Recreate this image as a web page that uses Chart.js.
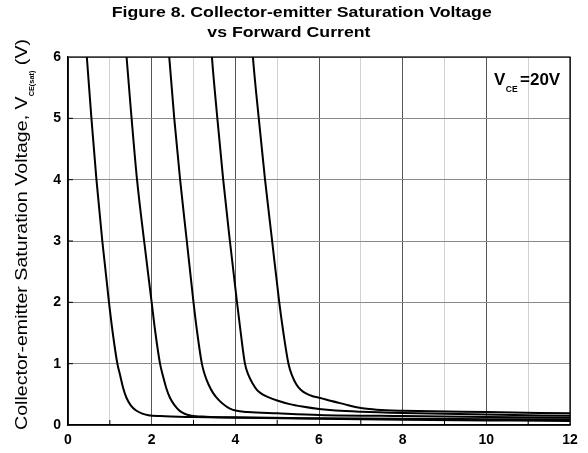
<!DOCTYPE html>
<html>
<head>
<meta charset="utf-8">
<script src="https://cdn.jsdelivr.net/npm/chart.js@4.4.1/dist/chart.umd.min.js"></script>
<style>
html,body{margin:0;padding:0;background:#ffffff;}
#wrap{width:588px;height:453px;}
</style>
</head>
<body>
<div id="wrap"><canvas id="c" width="588" height="453"></canvas></div>
<script>
// ---- chart text ----
const titleLines = ['Figure 8. Collector-emitter Saturation Voltage', 'vs Forward Current'];
const yLabelMain = 'Collector-emitter Saturation Voltage, V';
const yLabelSub = 'CE(sat)';
const yLabelTail = ' (V)';
const noteMain = 'V';
const noteSub = 'CE';
const noteTail = '=20V';

// ---- tick labels ----
const xTickLabels = [0, 2, 4, 6, 8, 10, 12];
const yTickLabels = [0, 1, 2, 3, 4, 5, 6];

// ---- series (forward current, V_CE(sat)) ----
const curve1X = [0.43, 0.45, 0.56, 0.68, 0.82, 0.98, 1.07, 1.18, 1.25, 1.32, 1.40, 1.50, 1.62, 1.76, 1.92, 2.2, 3, 4, 6, 8, 10, 12];
const curve1Y = [6.2, 6, 5, 4, 3, 2, 1.5, 1, 0.8, 0.6, 0.44, 0.32, 0.24, 0.19, 0.16, 0.145, 0.13, 0.12, 0.10, 0.085, 0.075, 0.065];

const curve2X = [1.38, 1.40, 1.52, 1.65, 1.82, 2.0, 2.09, 2.2, 2.27, 2.35, 2.44, 2.55, 2.67, 2.80, 2.95, 3.3, 4, 6, 8, 10, 12];
const curve2Y = [6.2, 6, 5, 4, 3, 2, 1.5, 1, 0.8, 0.6, 0.44, 0.32, 0.23, 0.18, 0.15, 0.135, 0.125, 0.11, 0.10, 0.095, 0.09];

const curve3X = [2.40, 2.42, 2.54, 2.68, 2.84, 3.0, 3.09, 3.2, 3.27, 3.36, 3.47, 3.60, 3.73, 3.86, 4.0, 4.3, 5, 6, 8, 10, 12];
const curve3Y = [6.2, 6, 5, 4, 3, 2, 1.5, 1, 0.82, 0.66, 0.52, 0.41, 0.33, 0.27, 0.235, 0.21, 0.19, 0.165, 0.145, 0.13, 0.12];

const curve4X = [3.42, 3.44, 3.57, 3.71, 3.87, 4.04, 4.13, 4.23, 4.31, 4.41, 4.52, 4.65, 4.80, 5.0, 5.3, 5.6, 6.0, 6.4, 7.0, 8, 10, 12];
const curve4Y = [6.2, 6, 5, 4, 3, 2, 1.5, 1, 0.82, 0.68, 0.57, 0.50, 0.45, 0.40, 0.34, 0.30, 0.26, 0.235, 0.215, 0.195, 0.17, 0.15];

const curve5X = [4.40, 4.42, 4.56, 4.71, 4.88, 5.05, 5.15, 5.27, 5.36, 5.46, 5.57, 5.70, 5.85, 6.03, 6.3, 6.6, 6.9, 7.2, 7.6, 8, 10, 12];
const curve5Y = [6.2, 6, 5, 4, 3, 2, 1.5, 1, 0.8, 0.66, 0.57, 0.51, 0.47, 0.44, 0.39, 0.34, 0.29, 0.26, 0.24, 0.232, 0.21, 0.19];

const curvesX = [curve1X, curve2X, curve3X, curve4X, curve5X];
const curvesY = [curve1Y, curve2Y, curve3Y, curve4Y, curve5Y];

const FONT = '"Liberation Sans", Arial, Helvetica, sans-serif';

const datasets = curvesX.map((xs, i) => ({
  label: 'curve ' + (i + 1),
  data: xs.map((x, j) => ({x: x, y: curvesY[i][j]})),
  showLine: true,
  borderColor: '#000000',
  borderWidth: 2,
  pointRadius: 0,
  pointHoverRadius: 0,
  fill: false,
  cubicInterpolationMode: 'monotone'
}));

const decorPlugin = {
  id: 'decor',
  afterDraw(chart) {
    const ctx = chart.ctx;
    const a = chart.chartArea;
    const xs = chart.scales.x;
    const ys = chart.scales.y;
    ctx.save();

    // frame
    ctx.strokeStyle = '#000000';
    ctx.lineWidth = 1.2;
    ctx.strokeRect(a.left, a.top, a.right - a.left, a.bottom - a.top);

    // minor ticks (inside)
    ctx.lineWidth = 1;
    ctx.strokeStyle = '#000000';
    ctx.beginPath();
    for (let v = 1; v < 12; v += 2) {
      const px = xs.getPixelForValue(v);
      ctx.moveTo(px, a.bottom);
      ctx.lineTo(px, a.bottom - 5);
    }
    for (let v = 1; v < 6; v++) {
      const py = ys.getPixelForValue(v);
      ctx.moveTo(a.left, py);
      ctx.lineTo(a.left + 5, py);
    }
    ctx.stroke();

    // title
    ctx.fillStyle = '#000000';
    ctx.textAlign = 'left';
    ctx.textBaseline = 'alphabetic';
    ctx.font = 'bold 17.7px ' + FONT;
    ctx.save();
    ctx.translate(111.7, 17.3);
    ctx.scale(1, 0.87);
    ctx.fillText(titleLines[0], 0, 0);
    ctx.restore();
    ctx.save();
    ctx.translate(207.3, 37.3);
    ctx.scale(1, 0.87);
    ctx.fillText(titleLines[1], 0, 0);
    ctx.restore();

    // y axis label (rotated, with subscript)
    const mainFont = '20px ' + FONT;
    const subFont = 'bold 7.5px ' + FONT;
    ctx.font = mainFont; const w1 = ctx.measureText(yLabelMain).width;
    ctx.font = subFont; const w2 = ctx.measureText(yLabelSub).width;
    ctx.font = mainFont; const w3 = ctx.measureText(yLabelTail).width;
    const total = w1 + w2 + w3;
    const target = 430 - 39;
    ctx.save();
    ctx.translate(27, 430);
    ctx.rotate(-Math.PI / 2);
    ctx.scale(target / total, 0.86);
    ctx.font = mainFont; ctx.fillText(yLabelMain, 0, 0);
    ctx.font = subFont; ctx.fillText(yLabelSub, w1, 8.5);
    ctx.font = mainFont; ctx.fillText(yLabelTail, w1 + w2, 0);
    ctx.restore();

    // V_CE = 20V note
    ctx.font = 'bold 17px ' + FONT;
    ctx.fillText(noteMain, 494, 85);
    const nw = ctx.measureText(noteMain).width;
    ctx.font = 'bold 8.5px ' + FONT;
    ctx.fillText(noteSub, 494 + nw + 0.5, 92);
    ctx.font = 'bold 17px ' + FONT;
    ctx.fillText(noteTail, 520, 85);

    ctx.restore();
  }
};

new Chart(document.getElementById('c'), {
  type: 'scatter',
  data: { datasets: datasets },
  plugins: [decorPlugin],
  options: {
    responsive: false,
    animation: false,
    events: [],
    layout: { padding: { top: 57, right: 18, left: 0, bottom: 0 } },
    plugins: {
      legend: { display: false },
      title: { display: false },
      tooltip: { enabled: false }
    },
    scales: {
      x: {
        type: 'linear',
        min: 0,
        max: 12,
        afterFit(scale) { scale.height = 28; scale.paddingLeft = 0; scale.paddingRight = 0; },
        border: { display: true, color: '#000000', width: 1.2 },
        grid: {
          drawTicks: false,
          lineWidth: 1,
          color: (c) => (c.tick && xTickLabels.includes(c.tick.value)) ? '#555555' : '#d2d2d2'
        },
        ticks: {
          stepSize: 1,
          autoSkip: false,
          maxRotation: 0,
          padding: 7,
          color: '#000000',
          font: { family: FONT, size: 14, weight: 'bold' },
          callback: (v) => xTickLabels.includes(v) ? String(v) : ''
        }
      },
      y: {
        type: 'linear',
        min: 0,
        max: 6,
        afterFit(scale) { scale.width = 68; },
        border: { display: true, color: '#000000', width: 1.2 },
        grid: {
          drawTicks: false,
          lineWidth: 1,
          color: '#8a8a8a'
        },
        ticks: {
          stepSize: 1,
          autoSkip: false,
          padding: 7,
          color: '#000000',
          font: { family: FONT, size: 14, weight: 'bold' },
          callback: (v) => yTickLabels.includes(v) ? String(v) : ''
        }
      }
    }
  }
});
</script>
</body>
</html>
